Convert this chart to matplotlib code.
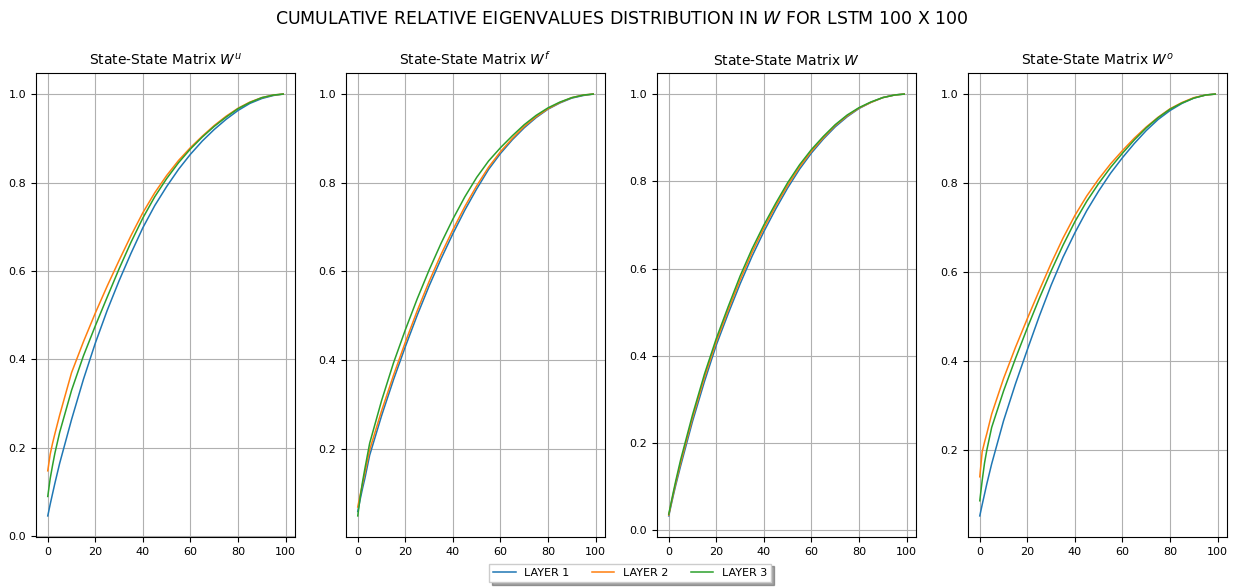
import matplotlib
matplotlib.use("Agg")
import matplotlib.pyplot as plt

# sample positions (eigenvalue index)
x_idx = [0, 1, 2, 3, 5, 10, 15, 20, 25, 30, 35, 40, 45, 50, 55, 60, 65, 70, 75, 80, 85, 90, 95, 99]

# panel titles
panel_titles = ["State-State Matrix $W^u$", "State-State Matrix $W^f$",
                "State-State Matrix $W$", "State-State Matrix $W^o$"]
layer_labels = ["LAYER 1", "LAYER 2", "LAYER 3"]

# Wu
wu_l1 = [0.046, 0.072, 0.096, 0.12, 0.165, 0.264, 0.355, 0.437, 0.511, 0.578, 0.64, 0.698, 0.748, 0.791, 0.83, 0.864, 0.894, 0.92, 0.943, 0.963, 0.979, 0.99, 0.997, 1.0]
wu_l2 = [0.148, 0.185, 0.21, 0.232, 0.274, 0.37, 0.44, 0.505, 0.566, 0.624, 0.68, 0.732, 0.777, 0.816, 0.85, 0.879, 0.905, 0.929, 0.95, 0.968, 0.982, 0.992, 0.998, 1.0]
wu_l3 = [0.09, 0.13, 0.16, 0.188, 0.235, 0.33, 0.408, 0.476, 0.541, 0.605, 0.665, 0.72, 0.768, 0.809, 0.845, 0.876, 0.903, 0.927, 0.948, 0.967, 0.981, 0.992, 0.998, 1.0]
# Wf
wf_l1 = [0.058, 0.085, 0.11, 0.133, 0.185, 0.274, 0.355, 0.43, 0.501, 0.567, 0.628, 0.685, 0.738, 0.786, 0.83, 0.866, 0.897, 0.924, 0.947, 0.966, 0.98, 0.991, 0.997, 1.0]
wf_l2 = [0.068, 0.095, 0.12, 0.145, 0.197, 0.285, 0.365, 0.44, 0.511, 0.577, 0.638, 0.694, 0.746, 0.793, 0.835, 0.87, 0.9, 0.927, 0.949, 0.967, 0.981, 0.992, 0.998, 1.0]
wf_l3 = [0.048, 0.09, 0.125, 0.155, 0.212, 0.308, 0.393, 0.468, 0.538, 0.603, 0.663, 0.718, 0.768, 0.812, 0.849, 0.879, 0.906, 0.931, 0.952, 0.969, 0.982, 0.992, 0.998, 1.0]
# W
w_l1 = [0.033, 0.058, 0.082, 0.105, 0.148, 0.25, 0.341, 0.425, 0.497, 0.565, 0.628, 0.685, 0.737, 0.785, 0.828, 0.865, 0.897, 0.925, 0.948, 0.967, 0.981, 0.992, 0.998, 1.0]
w_l2 = [0.035, 0.061, 0.086, 0.11, 0.155, 0.258, 0.35, 0.433, 0.505, 0.574, 0.637, 0.693, 0.744, 0.791, 0.833, 0.869, 0.9, 0.928, 0.95, 0.968, 0.981, 0.992, 0.998, 1.0]
w_l3 = [0.037, 0.064, 0.09, 0.115, 0.162, 0.265, 0.358, 0.44, 0.513, 0.583, 0.645, 0.7, 0.75, 0.797, 0.838, 0.873, 0.903, 0.93, 0.952, 0.969, 0.982, 0.992, 0.998, 1.0]
# Wo
wo_l1 = [0.051, 0.076, 0.1, 0.124, 0.168, 0.265, 0.348, 0.425, 0.5, 0.57, 0.633, 0.688, 0.738, 0.782, 0.822, 0.857, 0.889, 0.918, 0.943, 0.963, 0.979, 0.991, 0.998, 1.0]
wo_l2 = [0.139, 0.195, 0.217, 0.237, 0.28, 0.36, 0.43, 0.495, 0.558, 0.619, 0.676, 0.727, 0.771, 0.809, 0.843, 0.873, 0.901, 0.926, 0.948, 0.967, 0.981, 0.992, 0.998, 1.0]
wo_l3 = [0.085, 0.13, 0.17, 0.2, 0.25, 0.332, 0.405, 0.474, 0.54, 0.602, 0.66, 0.713, 0.759, 0.799, 0.835, 0.867, 0.897, 0.924, 0.947, 0.966, 0.98, 0.991, 0.998, 1.0]

panels = [(wu_l1, wu_l2, wu_l3), (wf_l1, wf_l2, wf_l3),
          (w_l1, w_l2, w_l3), (wo_l1, wo_l2, wo_l3)]
colors = ["#1f77b4", "#ff7f0e", "#2ca02c"]

fig = plt.figure(figsize=(12.43, 5.88), dpi=100)
W, H = 1243, 588
lefts = [36, 346, 657, 968]
aw, top, bottom = 259, 73, 537
handles = []
for i, (left, series) in enumerate(zip(lefts, panels)):
    ax = fig.add_axes([left / W, 1 - bottom / H, aw / W, (bottom - top) / H])
    for j, ys in enumerate(series):
        h, = ax.plot(x_idx, ys, color=colors[j], lw=1.1, label=layer_labels[j])
        if i == 0:
            handles.append(h)
    ax.set_title(panel_titles[i], fontsize=10)
    ax.grid(True, color="#b0b0b0", lw=0.8)
    ax.set_xticks([0, 20, 40, 60, 80, 100])
    ax.tick_params(labelsize=8)

fig.suptitle("CUMULATIVE RELATIVE EIGENVALUES DISTRIBUTION IN $W$ FOR LSTM 100 X 100",
             fontsize=12.5, y=1 - 19 / H, va="center")
fig.legend(handles=handles, labels=layer_labels, loc="lower center",
           bbox_to_anchor=(0.507, 0.0), ncol=3, fontsize=8, shadow=True,
           fancybox=False)
fig.savefig("out.png", dpi=100)
